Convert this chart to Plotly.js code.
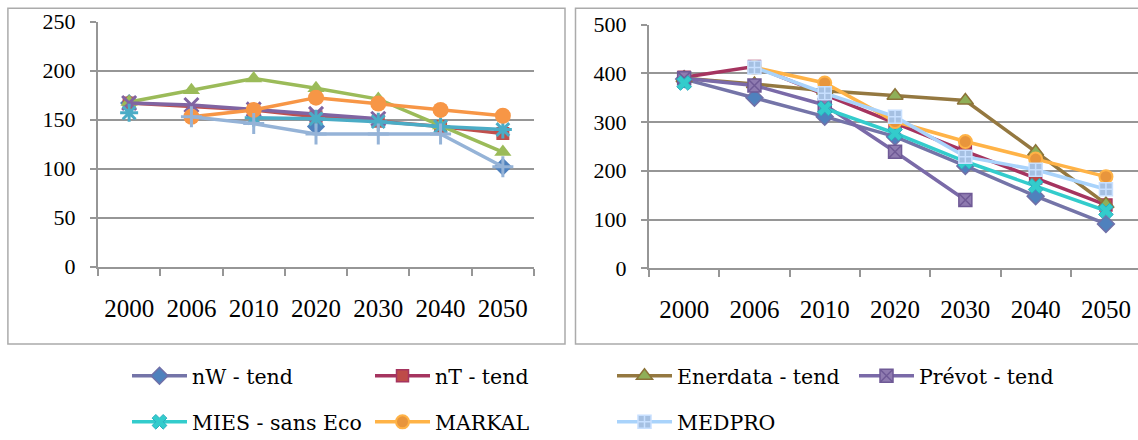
<!DOCTYPE html>
<html><head><meta charset="utf-8">
<script src="https://cdn.plot.ly/plotly-3.0.1.min.js"></script>
<style>html,body{margin:0;padding:0;background:#fff;}#chart{width:1138px;height:440px;}</style>
</head><body><div id="chart"></div>
<script>
const years = ['2000','2006','2010','2020','2030','2040','2050'];
const seriesNames = ['nW - tend','nT - tend','Enerdata - tend','Prévot - tend','MIES - sans Eco','MARKAL','MEDPRO'];
// left panel values
const leftNW       = [167, null, null, 143, null, null, 102];
const leftNT       = [167, null, 160, 153, 148.5, 143, 136];
const leftEnerdata = [168, 180, 192, 182, 171, 144, 117];
const leftPrevot   = [167, 165, 160.5, 156, 151, null, null];
const leftMIES     = [157, null, 152, 151, 148, 143, 140];
const leftMARKAL   = [null, 153, 160, 172.5, 166.5, 160, 154];
const leftMEDPRO   = [null, 153, 146, 135.5, 135.5, 135.5, 102];
// right panel values
const rightNW       = [388, 350, 311, 270, 210, 148, 91];
const rightNT       = [392, 414, 356, 298, 240, 185, 130];
const rightEnerdata = [390, 378, 364, 354, 344, 239, 132];
const rightPrevot   = [390, 375, 335, 239, 140, null, null];
const rightMIES     = [380, null, 328, 277, 219, 169, 118];
const rightMARKAL   = [null, 412, 380, 301, 260, 224, 188];
const rightMEDPRO   = [null, 412, 359, 311, 229, 202, 162];
const leftTicks = [0, 50, 100, 150, 200, 250];
const rightTicks = [0, 100, 200, 300, 400, 500];

const W = 1138, H = 440;
const px = v => v / W;
const py = v => (H - v) / H;

const leftStyle = [
  {line:'#4F81BD', sym:'diamond', size:14, fill:'#4F81BD'},
  {line:'#C0504D', sym:'square', size:13, fill:'#C0504D'},
  {line:'#9BBB59', sym:'triangle-up', size:15, fill:'#9BBB59'},
  {line:'#8064A2', sym:'x-thin-open', size:14, open:true},
  {line:'#4BACC6', sym:'asterisk-open', size:15, open:true},
  {line:'#F79646', sym:'circle', size:16, fill:'#F79646'},
  {line:'#95B3D7', sym:'cross-thin-open', size:15, open:true}
];
const rightStyle = [
  {line:'#7474A8', sym:'diamond', size:13, fill:'#4F81BD', mline:'#7070A8', mw:1.5},
  {line:'#A5345F', sym:'square', size:12, fill:'#BE4B48', mline:'#A5345F', mw:1.5},
  {line:'#947840', sym:'triangle-up', size:14, fill:'#8FAF58', mline:'#8C7338', mw:1.5},
  {line:'#7A6AA8', sym:'square-x', size:13, fill:'#8F7BB0', mline:'#6F5A96', mw:1.5},
  {line:'#33CCCC', sym:'x', size:13, fill:'#33CCCC', mline:'#2AAFBF', mw:1},
  {line:'#FFB347', sym:'circle', size:13, fill:'#E8953C', mline:'#FFB347', mw:2},
  {line:'#A9D3FB', sym:'square-cross', size:13, fill:'#A5C0E2', mline:'#C8E0FF', mw:1.5}
];
const leftData = [leftNW, leftNT, leftEnerdata, leftPrevot, leftMIES, leftMARKAL, leftMEDPRO];
const rightData = [rightNW, rightNT, rightEnerdata, rightPrevot, rightMIES, rightMARKAL, rightMEDPRO];
const legendIds = ['legend','legend2','legend3','legend4','legend5','legend6','legend7'];
// legend entry anchor (line start x, row centre y) in pixels
const legendPos = [[135,376],[378,376],[620,376],[862,376],[135,422],[378,422],[620,422]];

const traces = [];
leftData.forEach((y, i) => {
  const s = leftStyle[i];
  traces.push({
    type:'scatter', mode:'lines+markers', x: years, y: y, name: seriesNames[i],
    xaxis:'x', yaxis:'y', showlegend:false, connectgaps: i === 1,
    line:{color:s.line, width:3.5},
    marker: s.open ? {symbol:s.sym, size:s.size, color:s.line, line:{color:s.line, width:3}}
                   : {symbol:s.sym, size:s.size, color:s.fill, line:{width:0}},
    hoverinfo:'skip'
  });
});
rightData.forEach((y, i) => {
  const s = rightStyle[i];
  traces.push({
    type:'scatter', mode:'lines+markers', x: years, y: y, name: seriesNames[i],
    xaxis:'x2', yaxis:'y2', showlegend:true, legend: legendIds[i],
    line:{color:s.line, width:3.5},
    marker:{symbol:s.sym, size:s.size, color:s.fill, line:{color:s.mline, width:s.mw}},
    hoverinfo:'skip'
  });
});

const grid = '#969696';
const tickFont = {family:'Liberation Serif', color:'#000'};
function xax(domain, range, size) {
  return {domain: domain, type:'category', categoryorder:'array', categoryarray: years,
    range: range, showgrid:false, showline:true, linecolor:grid, linewidth:2,
    ticks:'outside', tickson:'boundaries', ticklen:7, tickwidth:2, tickcolor:grid,
    ticklabelstandoff: 18, tickfont: Object.assign({size:size}, tickFont), fixedrange:true};
}
function yax(domain, range, vals, anchor) {
  return {domain: domain, range: range, tickvals: vals, showgrid:true, gridcolor:grid, gridwidth:2,
    showline:true, linecolor:grid, linewidth:2, zeroline:false, anchor: anchor,
    ticks:'outside', ticklen:6, tickwidth:2, tickcolor:grid, ticklabelstandoff: 10,
    tickfont: Object.assign({size:22}, tickFont), fixedrange:true};
}
const legendBase = {orientation:'h', xanchor:'left', yanchor:'middle', itemwidth:55,
  font:{family:'DejaVu Serif', size:20.5, color:'#000'}, bgcolor:'rgba(0,0,0,0)', borderwidth:0};

const layout = {
  width: W, height: H, margin:{l:0, r:0, t:0, b:0, autoexpand:false}, paper_bgcolor:'#fff', plot_bgcolor:'#fff',
  xaxis: Object.assign(xax([px(98), px(534)], [-0.5, 6.5], 25), {anchor:'y'}),
  yaxis: yax([py(266.7), py(21.7)], [0, 250], leftTicks, 'x'),
  xaxis2: Object.assign(xax([px(649), 1], [-0.5, 6.456], 25), {anchor:'y2'}),
  yaxis2: yax([py(268.3), py(24.5)], [0, 500], rightTicks, 'x2'),
  shapes: [
    {type:'rect', xref:'paper', yref:'paper', x0: px(7.9), x1: px(565), y0: py(344), y1: py(8.3), line:{color:'#ababab', width:1.5}, layer:'below'},
    {type:'rect', xref:'paper', yref:'paper', x0: px(575.5), x1: 1.02, y0: py(344), y1: py(8.3), line:{color:'#ababab', width:1.5}, layer:'below'}
  ],
  showlegend: true
};
legendIds.forEach((id, i) => {
  layout[id] = Object.assign({x: px(legendPos[i][0] - 8), y: py(legendPos[i][1])}, legendBase);
});
Plotly.newPlot('chart', traces, layout, {displayModeBar:false, staticPlot:true});
</script></body></html>
